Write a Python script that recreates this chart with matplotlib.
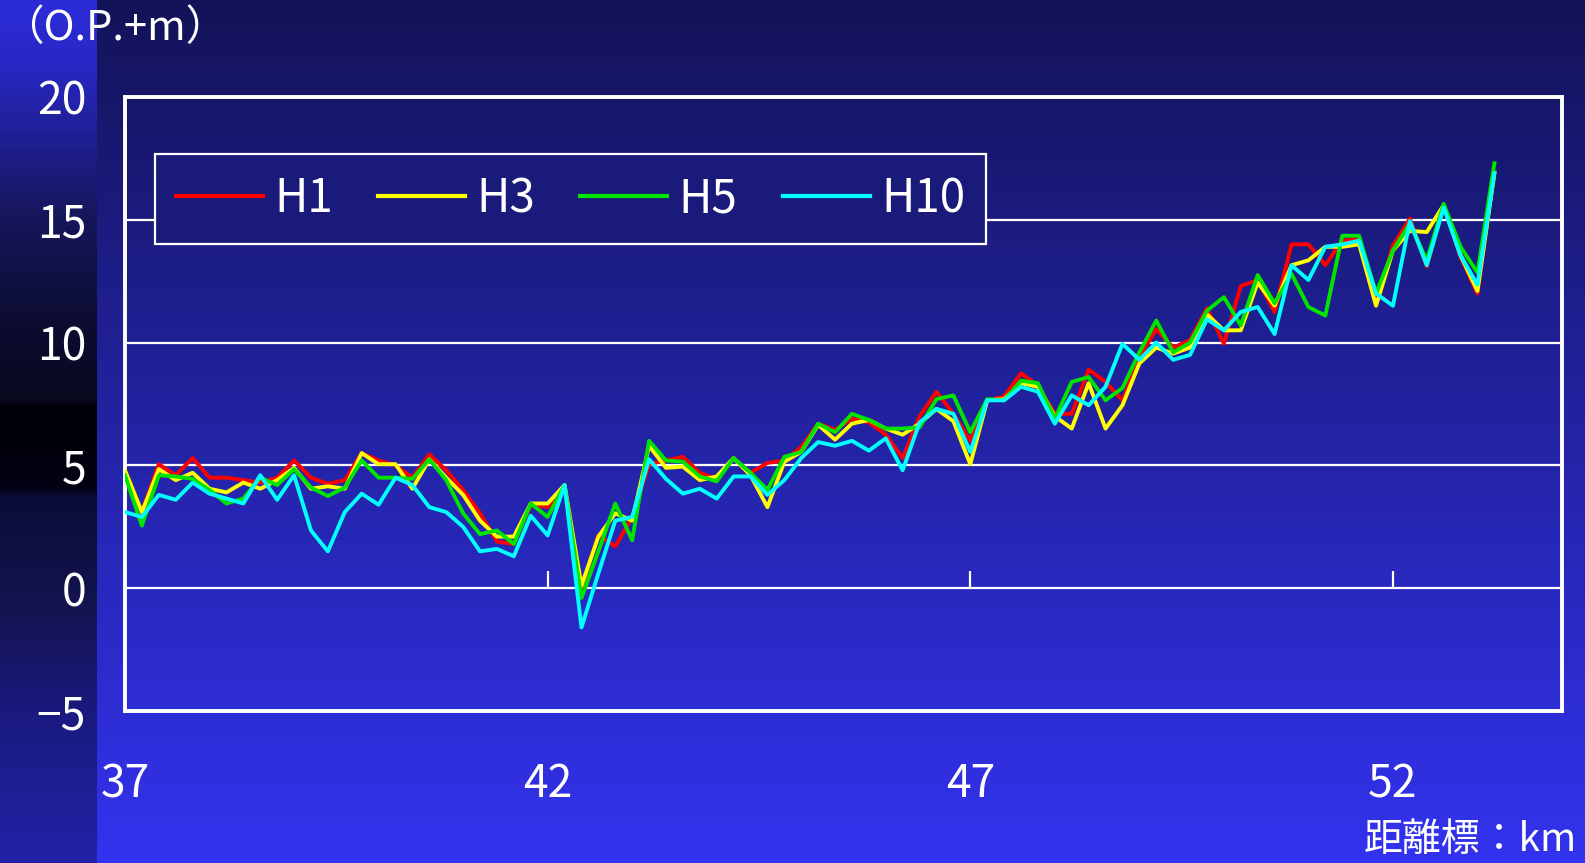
import numpy as np
import matplotlib.pyplot as plt

plt.rcParams['font.family'] = ['Liberation Sans Narrow', 'Noto Sans CJK JP', 'DejaVu Sans']

# distance marks (km) and water levels (O.P.+m) for each survey year
km = [37.0, 37.2, 37.4, 37.6, 37.8, 38.0, 38.2, 38.4, 38.6, 38.8,
      39.0, 39.2, 39.4, 39.6, 39.8, 40.0, 40.2, 40.4, 40.6, 40.8,
      41.0, 41.2, 41.4, 41.6, 41.8, 42.0, 42.2, 42.4, 42.6, 42.8,
      43.0, 43.2, 43.4, 43.6, 43.8, 44.0, 44.2, 44.4, 44.6, 44.8,
      45.0, 45.2, 45.4, 45.6, 45.8, 46.0, 46.2, 46.4, 46.6, 46.8,
      47.0, 47.2, 47.4, 47.6, 47.8, 48.0, 48.2, 48.4, 48.6, 48.8,
      49.0, 49.2, 49.4, 49.6, 49.8, 50.0, 50.2, 50.4, 50.6, 50.8,
      51.0, 51.2, 51.4, 51.6, 51.8, 52.0, 52.2, 52.4, 52.6, 52.8,
      53.0, 53.2]

h1 = [4.6, 3.1, 5.05, 4.6, 5.3, 4.5, 4.5, 4.4, 4.3, 4.5,
      5.2, 4.5, 4.25, 4.4, 5.5, 5.2, 5.0, 4.5, 5.45, 4.8,
      4.0, 3.05, 1.9, 1.8, 3.4, 3.3, 4.2, 0.0, 2.15, 1.7,
      2.9, 5.05, 5.2, 5.35, 4.7, 4.45, 5.3, 4.7, 5.1, 5.2,
      5.75, 6.7, 6.45, 6.9, 6.75, 6.25, 5.3, 7.0, 8.0, 7.1,
      6.0, 7.65, 7.8, 8.75, 8.25, 7.1, 7.1, 8.9, 8.4, 7.65,
      9.4, 10.55, 9.8, 10.1, 11.4, 9.95, 12.3, 12.55, 11.25, 14.0,
      14.0, 13.15, 14.15, 14.2, 11.6, 13.95, 15.05, 13.1, 15.6, 13.5,
      12.0, 16.95]

h3 = [4.8, 3.1, 4.85, 4.4, 4.7, 4.05, 3.9, 4.3, 4.05, 4.4,
      4.9, 4.05, 4.15, 4.05, 5.5, 5.05, 5.05, 4.05, 5.25, 4.5,
      3.8, 2.75, 2.1, 2.1, 3.45, 3.45, 4.2, 0.1, 2.1, 3.05,
      2.75, 5.8, 4.9, 4.95, 4.4, 4.55, 5.3, 4.6, 3.3, 5.15,
      5.55, 6.65, 6.05, 6.7, 6.85, 6.5, 6.25, 6.7, 7.3, 6.8,
      5.05, 7.65, 7.7, 8.35, 8.2, 7.0, 6.5, 8.35, 6.5, 7.45,
      9.15, 9.8, 9.55, 9.8, 11.15, 10.5, 10.5, 12.45, 11.5, 13.15,
      13.35, 13.9, 13.9, 14.0, 11.5, 13.75, 14.55, 14.5, 15.6, 13.55,
      12.1, 16.9]

h5 = [4.6, 2.55, 4.6, 4.55, 4.45, 4.0, 3.45, 3.65, 4.5, 4.2,
      4.85, 4.1, 3.75, 4.1, 5.2, 4.5, 4.5, 4.45, 5.25, 4.4,
      3.05, 2.2, 2.35, 1.8, 3.45, 2.9, 4.2, -0.4, 1.5, 3.45,
      1.95, 6.0, 5.2, 5.15, 4.55, 4.35, 5.3, 4.7, 4.0, 5.35,
      5.55, 6.7, 6.35, 7.1, 6.85, 6.5, 6.5, 6.55, 7.7, 7.85,
      6.35, 7.7, 7.65, 8.45, 8.35, 6.9, 8.4, 8.6, 7.65, 8.15,
      9.6, 10.9, 9.6, 10.0, 11.3, 11.85, 10.7, 12.75, 11.6, 12.8,
      11.45, 11.1, 14.35, 14.35, 12.0, 13.75, 14.85, 13.35, 15.65, 13.9,
      12.85, 17.3]

h10 = [3.1, 2.9, 3.8, 3.6, 4.3, 3.85, 3.65, 3.45, 4.6, 3.6,
       4.6, 2.35, 1.5, 3.1, 3.85, 3.4, 4.5, 4.2, 3.3, 3.1,
       2.5, 1.5, 1.6, 1.3, 2.95, 2.15, 4.2, -1.6, 0.6, 2.75,
       2.9, 5.25, 4.45, 3.85, 4.05, 3.65, 4.55, 4.55, 3.8, 4.4,
       5.3, 5.95, 5.8, 6.0, 5.6, 6.1, 4.8, 6.75, 7.3, 7.1,
       5.55, 7.65, 7.65, 8.2, 8.0, 6.7, 7.85, 7.45, 8.2, 9.95,
       9.3, 10.0, 9.3, 9.5, 10.95, 10.5, 11.25, 11.45, 10.35, 13.15,
       12.55, 13.9, 14.0, 14.15, 12.0, 11.5, 14.95, 13.15, 15.5, 13.55,
       12.35, 16.9]

series = [('H1', h1, '#ff0000'), ('H3', h3, '#ffff00'),
          ('H5', h5, '#00e400'), ('H10', h10, '#00ffff')]

xticks = [37, 42, 47, 52]
yticks = [-5, 0, 5, 10, 15, 20]
ylabels = ['\u22125', '0', '5', '10', '15', '20']


def hex2rgb(h):
    return [int(h[i:i + 2], 16) / 255 for i in (1, 3, 5)]


def gradient(stops, cols, n):
    yy = np.arange(n)
    c = np.array([hex2rgb(h) for h in cols])
    return np.stack([np.interp(yy, stops, c[:, k]) for k in range(3)], axis=1)


W, H = 1585, 863
main = gradient([0, H], ['#131358', '#3333f0'], H)
strip = gradient([0, 60, 220, 330, 400, 408, 488, 496, 605, 715, H],
                 ['#2c2cd8', '#2828c8', '#16165a', '#0c0c30', '#08081e',
                  '#000008', '#020214', '#0c0c38', '#141450', '#1a1a80', '#2222a8'], H)
img = np.repeat(main[:, None, :], W, axis=1)
img[:, :97, :] = strip[:, None, :]

fig = plt.figure(figsize=(15.85, 8.63), dpi=100)
bg = fig.add_axes([0, 0, 1, 1], zorder=-1)
bg.imshow(img, aspect='auto', interpolation='nearest')
bg.axis('off')

ax = fig.add_axes([125 / W, 1 - 711 / H, (1562 - 125) / W, (711 - 97) / H])
ax.set_facecolor('none')

for y in [0, 5, 10, 15]:
    ax.axhline(y, color='white', lw=1.6, zorder=1)
ax.vlines(xticks, 0, 0.7, color='white', lw=1.6, zorder=1)

for name, vals, col in series:
    ax.plot(km, vals, color=col, lw=2.8, label=name, zorder=3)

ax.set_xlim(37, 54)
ax.set_ylim(-5, 20)
ax.set_xticks(xticks)
ax.set_yticks(yticks)
ax.set_yticklabels(ylabels)
ax.tick_params(axis='both', length=0, colors='white', labelsize=32)
ax.tick_params(axis='y', pad=28)
ax.tick_params(axis='x', pad=36)
for s in ax.spines.values():
    s.set_color('white')
    s.set_linewidth(2.8)

leg = ax.legend(loc='upper left', bbox_to_anchor=(155 / W, 1 - 154 / H),
                bbox_transform=fig.transFigure, ncol=4, fontsize=33,
                handlelength=1.9, handletextpad=0.25, columnspacing=0.98,
                borderpad=0.45, borderaxespad=0, fancybox=False,
                framealpha=1, facecolor='#1a1a7a', edgecolor='white')
leg.get_frame().set_linewidth(1.6)
for t in leg.get_texts():
    t.set_color('white')
for l in leg.get_lines():
    l.set_linewidth(3.0)

fig.text(2 / W, 1 - 28 / H, '（O.P.+m）', color='white', fontsize=30,
         ha='left', va='center', family=['Noto Sans CJK JP', 'DejaVu Sans'])
fig.text(1577 / W, 1 - 840 / H, '距離標：km', color='white', fontsize=28,
         ha='right', va='center', family=['Noto Sans CJK JP', 'DejaVu Sans'])

fig.savefig('out.png', dpi=100)
